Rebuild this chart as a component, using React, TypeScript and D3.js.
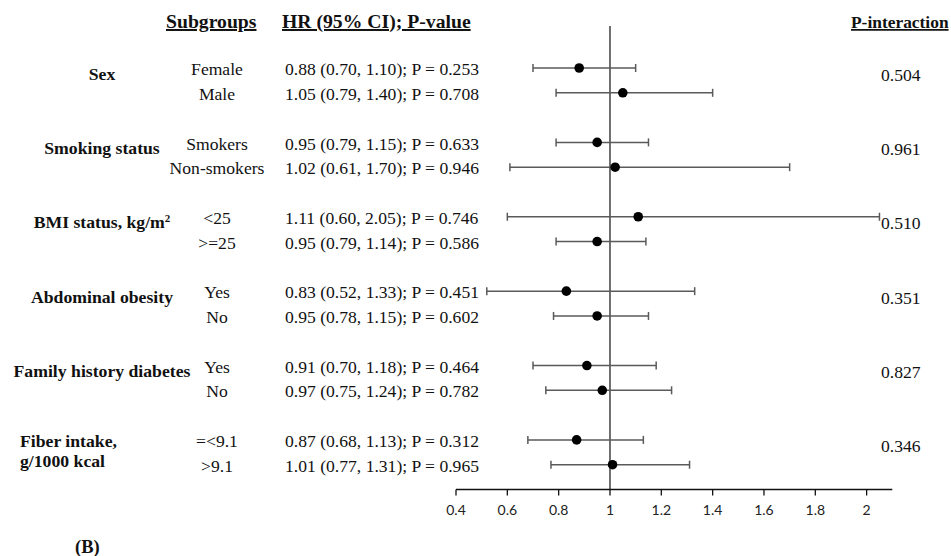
import React from "react";
import * as d3 from "d3";

const groups = ["Sex", "Smoking status", "BMI status, kg/m²", "Abdominal obesity", "Family history diabetes", "Fiber intake,|g/1000 kcal"];
const subgroups = ["Female", "Male", "Smokers", "Non-smokers", "<25", ">=25", "Yes", "No", "Yes", "No", "=<9.1", ">9.1"];
const hr = [0.88, 1.05, 0.95, 1.02, 1.11, 0.95, 0.83, 0.95, 0.91, 0.97, 0.87, 1.01];
const lower = [0.70, 0.79, 0.79, 0.61, 0.60, 0.79, 0.52, 0.78, 0.70, 0.75, 0.68, 0.77];
const upper = [1.10, 1.40, 1.15, 1.70, 2.05, 1.14, 1.33, 1.15, 1.18, 1.24, 1.13, 1.31];
const pValues = ["0.253", "0.708", "0.633", "0.946", "0.746", "0.586", "0.451", "0.602", "0.464", "0.782", "0.312", "0.965"];
const pInteraction = ["0.504", "0.961", "0.510", "0.351", "0.827", "0.346"];
const tickValues = [0.4, 0.6, 0.8, 1, 1.2, 1.4, 1.6, 1.8, 2];

const W = 951;
const H = 556;
const serif = "'Liberation Serif', 'Times New Roman', serif";

export default function App() {
  const x = d3.scaleLinear().domain([0.4, 2.1]).range([456, 892.3]);
  const y = d3.scaleLinear().domain([0, 16]).range([68, 464.7]);
  const slot = (i: number) => Math.floor(i / 2) * 3 + (i % 2);
  const axisY = 489.5;
  const fmt = (d: number) => (Number.isInteger(d) ? String(d) : d3.format(".1f")(d));

  return (
    <svg width={W} height={H} style={{ position: "absolute", left: 0, top: 0, background: "#fff" }}>
      <rect x={0} y={0} width={W} height={H} fill="#fff" />
      {/* headers */}
      <g fontFamily={serif} fontWeight="bold" fontSize={19.7} fill="#111">
        <text x={166} y={28} style={{ textDecoration: "underline" }}>Subgroups</text>
        <text x={282} y={28} style={{ textDecoration: "underline" }}>HR (95% CI); P-value</text>
        <text x={851} y={28} fontSize={17.4} style={{ textDecoration: "underline" }}>P-interaction</text>
      </g>

      {/* group labels */}
      <g fontFamily={serif} fontWeight="bold" fontSize={17.7} fill="#111">
        {groups.map((g, gi) => {
          const mid = (y(gi * 3) + y(gi * 3 + 1)) / 2;
          const lines = g.split("|");
          if (lines.length > 1) {
            return (
              <text key={gi} x={20} y={mid - 11.8}>
                {lines.map((l, li) => (
                  <tspan key={li} x={20} dy={li === 0 ? "0.35em" : "1.13em"}>{l}</tspan>
                ))}
              </text>
            );
          }
          return (
            <text key={gi} x={102} y={mid - 7} dy="0.35em" textAnchor="middle">
              {g.endsWith("m²") ? (
                <>
                  {g.slice(0, -1)}
                  <tspan fontSize={11} dy="-0.6em">2</tspan>
                </>
              ) : g}
            </text>
          );
        })}
      </g>

      {/* subgroup labels & HR text */}
      <g fontFamily={serif} fontSize={17.6} fill="#111">
        {subgroups.map((s, i) => (
          <text key={"s" + i} x={217} y={y(slot(i)) + 1} dy="0.35em" textAnchor="middle">{s}</text>
        ))}
        {hr.map((h, i) => (
          <text key={"h" + i} x={285} y={y(slot(i)) + 1} dy="0.35em">
            {`${h.toFixed(2)} (${lower[i].toFixed(2)}, ${upper[i].toFixed(2)}); P = ${pValues[i]}`}
          </text>
        ))}
        {pInteraction.map((p, gi) => {
          const mid = (y(gi * 3) + y(gi * 3 + 1)) / 2;
          return <text key={"p" + gi} x={881} y={mid - 6} dy="0.35em">{p}</text>;
        })}
      </g>

      {/* reference line */}
      <line x1={x(1)} x2={x(1)} y1={26} y2={axisY} stroke="#111" strokeWidth={1.2} />

      {/* CIs */}
      <g stroke="#5a5a5a" strokeWidth={1.5}>
        {hr.map((h, i) => {
          const cy = y(slot(i));
          return (
            <g key={"ci" + i}>
              <line x1={x(lower[i])} x2={x(upper[i])} y1={cy} y2={cy} />
              <line x1={x(lower[i])} x2={x(lower[i])} y1={cy - 4} y2={cy + 4} />
              <line x1={x(upper[i])} x2={x(upper[i])} y1={cy - 4} y2={cy + 4} />
            </g>
          );
        })}
      </g>
      <g fill="#000">
        {hr.map((h, i) => (
          <circle key={"d" + i} cx={x(h)} cy={y(slot(i))} r={4.8} />
        ))}
      </g>

      {/* axis */}
      <g>
        <line x1={x(0.4)} x2={x(2.1)} y1={axisY} y2={axisY} stroke="#111" strokeWidth={1.5} />
        {tickValues.map((t) => (
          <g key={"t" + t}>
            <line x1={x(t)} x2={x(t)} y1={axisY} y2={axisY + 6} stroke="#111" strokeWidth={1.3} />
            <text x={x(t)} y={axisY + 21} dy="0.35em" textAnchor="middle" fontFamily="Lato, 'Open Sans', sans-serif" fontSize={14} fill="#222">
              {fmt(t)}
            </text>
          </g>
        ))}
      </g>

      <text x={75} y={547} dy="0.35em" fontFamily={serif} fontWeight="bold" fontSize={18.5} fill="#111">(B)</text>
    </svg>
  );
}
